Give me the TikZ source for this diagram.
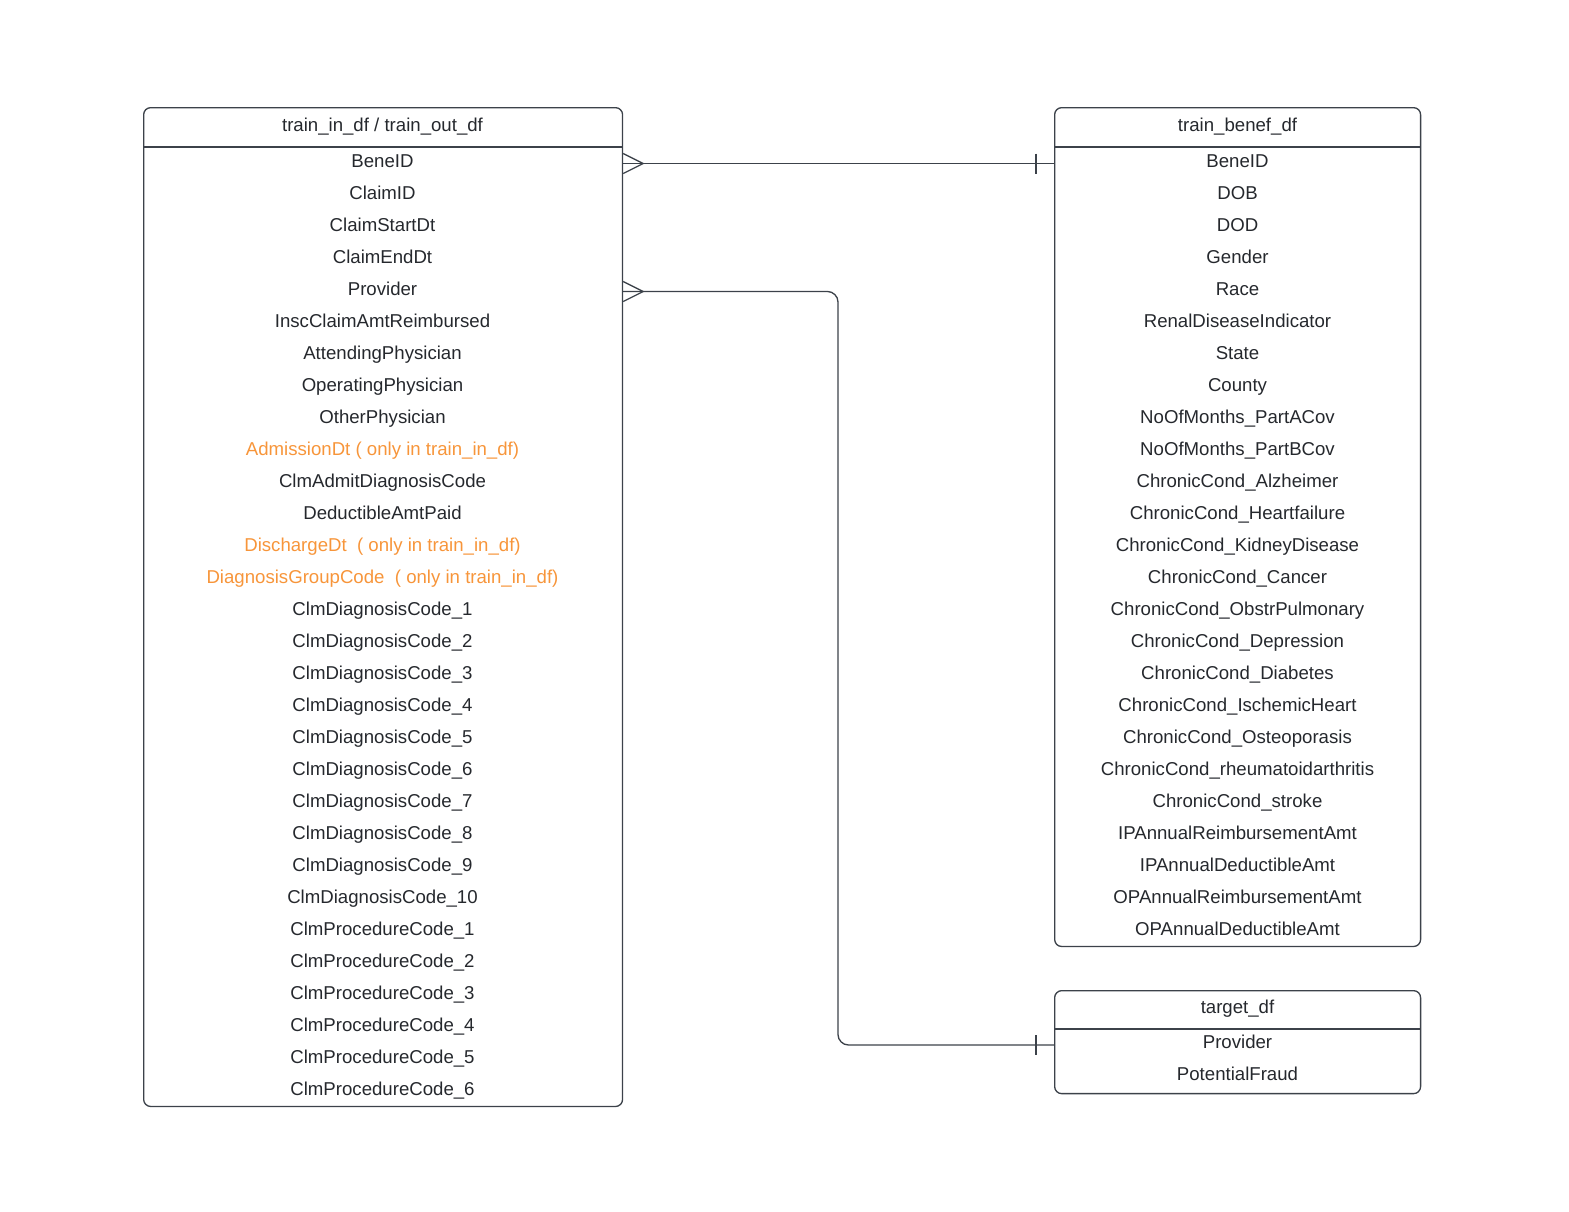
\documentclass[tikz,border=0pt]{standalone}
\usepackage{fontspec}
\setmainfont{Liberation Sans}
\definecolor{linegray}{HTML}{3C424A}
\definecolor{textdark}{HTML}{25282D}
\definecolor{onlyorange}{HTML}{F7953A}
\begin{document}
\begin{tikzpicture}[x=0.02cm, y=-0.02cm]
	\tikzstyle{table}=[draw=linegray, line width=0.75pt, rounded corners=4pt, inner sep=0pt]
	\tikzstyle{field}=[inner sep=0pt, text height=7.6pt, text depth=0pt, text=textdark, font=\fontsize{10.6}{12}\selectfont]
	\tikzstyle{conn}=[draw=linegray, line width=0.75pt]
	\useasboundingbox (0,0) rectangle (1569,1211);
	% Claims table
	\node at (143,107) [table, anchor=north west, minimum width=9.58cm, minimum height=19.98cm] (claims) {};
	\draw [conn] (claims.west |- 0,147) -- (claims.east |- 0,147);
	\node at (382.5,125) [field] (claims_title) {train\_in\_df / train\_out\_df};
	\foreach \name [count=\i] in {BeneID, ClaimID, ClaimStartDt, ClaimEndDt, Provider,
		InscClaimAmtReimbursed, AttendingPhysician, OperatingPhysician, OtherPhysician,
		{\textcolor{onlyorange}{AdmissionDt ( only in train\_in\_df)}},
		ClmAdmitDiagnosisCode, DeductibleAmtPaid,
		{\textcolor{onlyorange}{DischargeDt\ \ ( only in train\_in\_df)}},
		{\textcolor{onlyorange}{DiagnosisGroupCode\ \ ( only in train\_in\_df)}},
		ClmDiagnosisCode\_1, ClmDiagnosisCode\_2, ClmDiagnosisCode\_3, ClmDiagnosisCode\_4,
		ClmDiagnosisCode\_5, ClmDiagnosisCode\_6, ClmDiagnosisCode\_7, ClmDiagnosisCode\_8,
		ClmDiagnosisCode\_9, ClmDiagnosisCode\_10, ClmProcedureCode\_1, ClmProcedureCode\_2,
		ClmProcedureCode\_3, ClmProcedureCode\_4, ClmProcedureCode\_5, ClmProcedureCode\_6}
		\node at (382.5, 129+\i*32) [field] (claims_\i) {\name};
	% Beneficiary table
	\node at (1054,107) [table, anchor=north west, minimum width=7.32cm, minimum height=16.78cm] (benef) {};
	\draw [conn] (benef.west |- 0,147) -- (benef.east |- 0,147);
	\node at (1237.5,125) [field] (benef_title) {train\_benef\_df};
	\foreach \name [count=\i] in {BeneID, DOB, DOD, Gender, Race, RenalDiseaseIndicator,
		State, County, NoOfMonths\_PartACov, NoOfMonths\_PartBCov, ChronicCond\_Alzheimer,
		ChronicCond\_Heartfailure, ChronicCond\_KidneyDisease, ChronicCond\_Cancer,
		ChronicCond\_ObstrPulmonary, ChronicCond\_Depression, ChronicCond\_Diabetes,
		ChronicCond\_IschemicHeart, ChronicCond\_Osteoporasis, ChronicCond\_rheumatoidarthritis,
		ChronicCond\_stroke, IPAnnualReimbursementAmt, IPAnnualDeductibleAmt,
		OPAnnualReimbursementAmt, OPAnnualDeductibleAmt}
		\node at (1237.5, 129+\i*32) [field] (benef_\i) {\name};
	% Target table
	\node at (1054,990) [table, anchor=north west, minimum width=7.32cm, minimum height=2.06cm] (target) {};
	\draw [conn] (target.west |- 0,1029) -- (target.east |- 0,1029);
	\node at (1237.5,1007) [field] (target_title) {target\_df};
	\foreach \name [count=\i] in {Provider, PotentialFraud}
		\node at (1237.5, 1010+\i*32) [field] (target_\i) {\name};
	%---------------------%
	\coordinate (bene_from) at ([yshift=-0.05cm]claims.east |- claims_1);
	\coordinate (bene_to) at ([yshift=-0.05cm]benef.west |- claims_1);
	\coordinate (prov_from) at ([yshift=-0.05cm]claims.east |- claims_5);
	\coordinate (prov_to) at ([yshift=-0.06cm]target.west |- target_1);
	\coordinate (bend) at (838,0);
	% BeneID: many -> one
	\draw [conn] (bene_from) -- (bene_to);
	\draw [conn] (bene_from) ++(0,-10) -- ++(20,10) -- ++(-20,10);
	\draw [conn] (bene_to) ++(-18,-10) -- ++(0,20);
	% Provider: many -> one
	\draw [conn, rounded corners=6pt] (prov_from) -| (bend |- prov_to) -- (prov_to);
	\draw [conn] (prov_from) ++(0,-10) -- ++(20,10) -- ++(-20,10);
	\draw [conn] (prov_to) ++(-18,-10) -- ++(0,20);
\end{tikzpicture}
\end{document}
